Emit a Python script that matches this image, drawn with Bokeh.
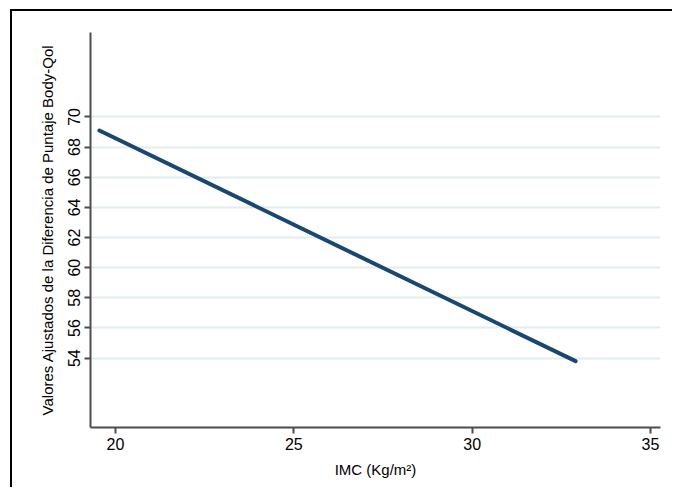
from bokeh.plotting import figure
from bokeh.models import FixedTicker, Range1d
from bokeh.embed import file_html
from bokeh.resources import INLINE

# Data
imc = [19.55, 32.9]
ajustado = [69.1, 53.8]
x_ticks = [20, 25, 30, 35]
y_ticks = [54, 56, 58, 60, 62, 64, 66, 68, 70]

FONT = "Liberation Sans"

p = figure(width=662, height=478, output_backend="svg", toolbar_location=None,
           x_range=Range1d(19.3, 35.28), y_range=Range1d(49.4, 75.6),
           min_border_left=78, min_border_right=14, min_border_top=21, min_border_bottom=62)
p.margin = (9, 0, 0, 10)
p.styles = {"border-top": "2px solid #000000", "border-left": "2px solid #000000"}

p.line(imc, ajustado, line_color="#1a476f", line_width=4, line_cap="round")

p.outline_line_color = None
p.background_fill_color = "white"
p.border_fill_color = "white"

p.xgrid.grid_line_color = None
p.ygrid.grid_line_color = "#e2ebf0"
p.ygrid.grid_line_width = 2

p.xaxis.ticker = FixedTicker(ticks=x_ticks)
p.yaxis.ticker = FixedTicker(ticks=y_ticks)
for ax in (p.xaxis[0], p.yaxis[0]):
    ax.axis_line_color = "#4d4d4d"
    ax.axis_line_width = 2
    ax.major_tick_line_color = "#4d4d4d"
    ax.major_tick_line_width = 2
    ax.major_tick_in = 0
    ax.major_tick_out = 6
    ax.minor_tick_line_color = None
    ax.major_label_text_font = FONT
    ax.major_label_text_font_size = "16px"
    ax.major_label_text_color = "#000000"
    ax.axis_label_text_font = FONT
    ax.axis_label_text_font_size = "15px"
    ax.axis_label_text_font_style = "normal"
    ax.axis_label_text_color = "#000000"

p.xaxis.axis_label = "IMC (Kg/m²)"
p.yaxis.axis_label = "Valores Ajustados de la Diferencia de Puntaje Body-Qol"
p.yaxis.major_label_orientation = "vertical"
p.xaxis.major_label_standoff = 4
p.xaxis.axis_label_standoff = 8
p.yaxis.major_label_standoff = 4
p.yaxis.axis_label_standoff = 10

open("out.html", "w").write(file_html(p, INLINE))
